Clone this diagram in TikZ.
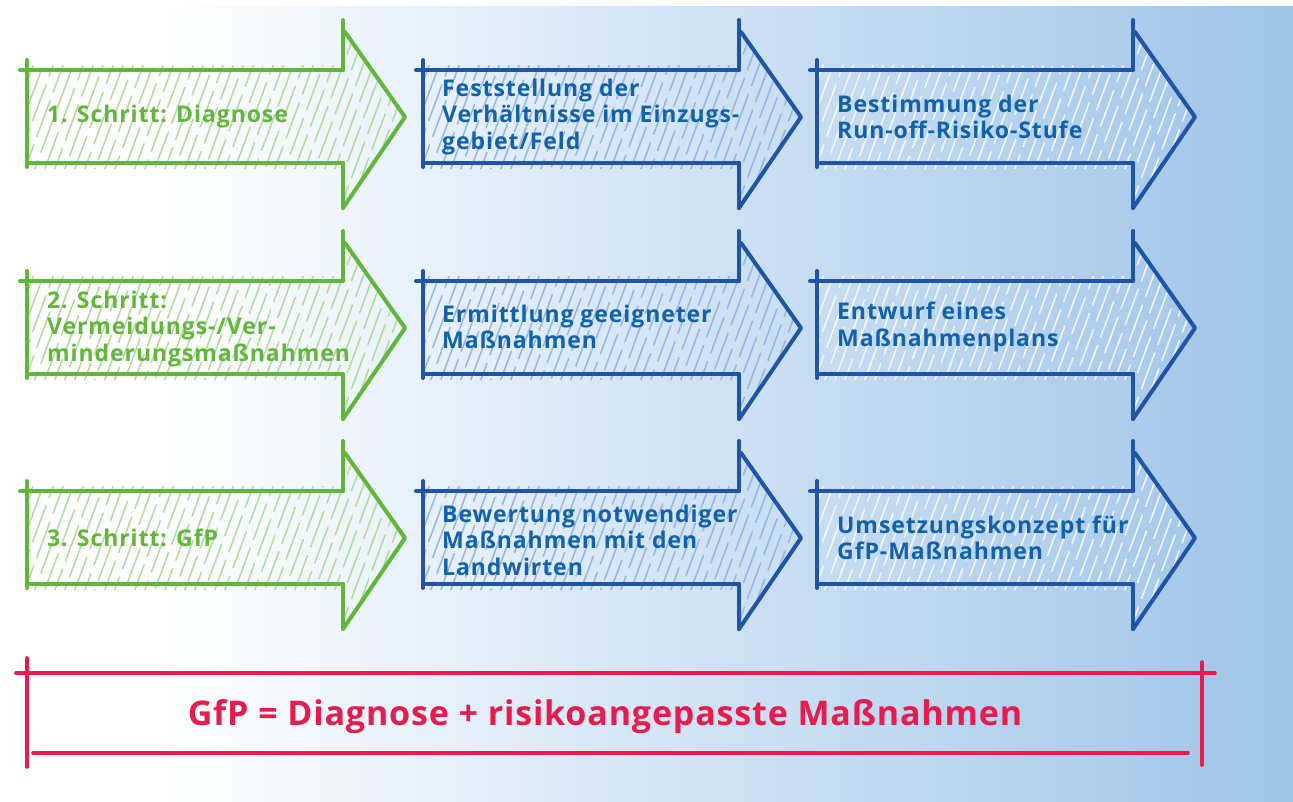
\documentclass[tikz,border=0pt]{standalone}
\usepackage{fontspec}
\setmainfont{Open Sans}
\newfontfamily\steplabelfont{Open Sans}[LetterSpace=4]
\newfontfamily\formulafont{Open Sans}[LetterSpace=2.5]
\usetikzlibrary{positioning}
\definecolor{stepgreen}{RGB}{98,182,60}
\definecolor{stepblue}{RGB}{32,84,166}
\definecolor{textblue}{RGB}{18,98,170}
\definecolor{framered}{RGB}{230,28,78}
\definecolor{bgblue}{RGB}{158,196,232}
\definecolor{hatchgreen}{RGB}{176,220,156}
\definecolor{hatchblue}{RGB}{150,182,228}
\pgfdeclarehorizontalshading{bgshade}{100bp}{color(0bp)=(white); color(31bp)=(white); color(75bp)=(bgblue); color(100bp)=(bgblue)}
\tikzset{
  sketch/.style={line width=4pt},
  hatchline/.style={line width=1.5pt, dash pattern=on 38pt off 9pt},
  steplabel/.style={anchor=west, align=left, inner sep=0pt, font=\steplabelfont\bfseries\fontsize{23}{26.5}\selectfont},
  frameline/.style={line width=3.6pt, framered},
  formula/.style={inner sep=0pt, text=framered, font=\formulafont\bfseries\fontsize{34}{40}\selectfont}
}

\begin{document}
\begin{tikzpicture}[x=1pt, y=-1pt, line cap=round, line join=round]
	\useasboundingbox (0,0) rectangle (1293,801);

	% background
	\fill[white] (0,0) rectangle (1293,801);
	\shade[shading=bgshade] (0,6) rectangle (1293,801);

	% the nine sketched arrows
	\foreach \cy in {117,328,538} {
		\foreach \lx/\col/\hcol/\hop in {27/stepgreen/hatchgreen/1, 423/stepblue/hatchblue/1, 817/stepblue/white/0.85} {
			\pgfmathsetmacro{\bx}{\lx+316}
			\pgfmathsetmacro{\tx}{\lx+378}
			% hatching
			\begin{scope}
				\clip (\lx,{\cy-52}) -- (\bx,{\cy-52}) -- (\bx,{\cy-85}) -- (\tx,\cy) -- (\bx,{\cy+90}) -- (\bx,{\cy+52}) -- (\lx,{\cy+52}) -- cycle;
				\foreach \k in {0,...,46} {
					\pgfmathsetmacro{\ph}{mod(\k*17,47)}
					\draw[hatchline, draw=\hcol, draw opacity=\hop, dash phase=\ph pt] ({\lx-80+\k*10},{\cy+100}) -- ++(74,-200);
				}
			\end{scope}
			% outline strokes
			\draw[sketch, \col] (\lx,{\cy-57}) -- (\lx,{\cy+50});
			\draw[sketch, \col] ({\lx-7},{\cy-47}) -- (\bx,{\cy-47});
			\draw[sketch, \col] ({\lx+3},{\cy+46}) -- (\bx,{\cy+46});
			\draw[sketch, \col] (\bx,{\cy-97}) -- (\bx,{\cy-47});
			\draw[sketch, \col] ({\bx+2},{\cy-85}) -- (\tx,\cy) -- (\bx,{\cy+91});
			\draw[sketch, \col] (\bx,{\cy+46}) -- (\bx,{\cy+91});
		}
	}

	% labels, row 1
	\node[steplabel, text=stepgreen] (diagnose) at (47,117) {1. Schritt: Diagnose};
	\node[steplabel, text=textblue] (feststellung) at (442,117) {Feststellung der\\Verhältnisse im Einzugs-\\gebiet/Feld};
	\node[steplabel, text=textblue] (stufe) at (837,117) {Bestimmung der\\Run-off-Risiko-Stufe};

	% labels, row 2
	\node[steplabel, text=stepgreen] (vermeidung) at (47,329) {2. Schritt:\\Vermeidungs-/Ver-\\minderungsmaßnahmen};
	\node[steplabel, text=textblue] (ermittlung) at (442,327) {Ermittlung geeigneter\\Maßnahmen};
	\node[steplabel, text=textblue] (entwurf) at (837,327) {Entwurf eines\\Maßnahmenplans};

	% labels, row 3
	\node[steplabel, text=stepgreen] (gfp) at (47,538) {3. Schritt: GfP};
	\node[steplabel, text=textblue] (bewertung) at (442,540) {Bewertung notwendiger\\Maßnahmen mit den\\Landwirten};
	\node[steplabel, text=textblue] (umsetzung) at (837,538) {Umsetzungskonzept für\\GfP-Maßnahmen};

	% the red frame with the formula
	\draw[frameline] (16,673) -- (1215,673);
	\draw[frameline] (27,658) -- (27,767);
	\draw[frameline] (1202,662) -- (1202,765);
	\draw[frameline] (33,753) -- (1188,753);
	\node[formula] (formel) at (605,717) {GfP = Diagnose + risikoangepasste Maßnahmen};
\end{tikzpicture}
\end{document}
